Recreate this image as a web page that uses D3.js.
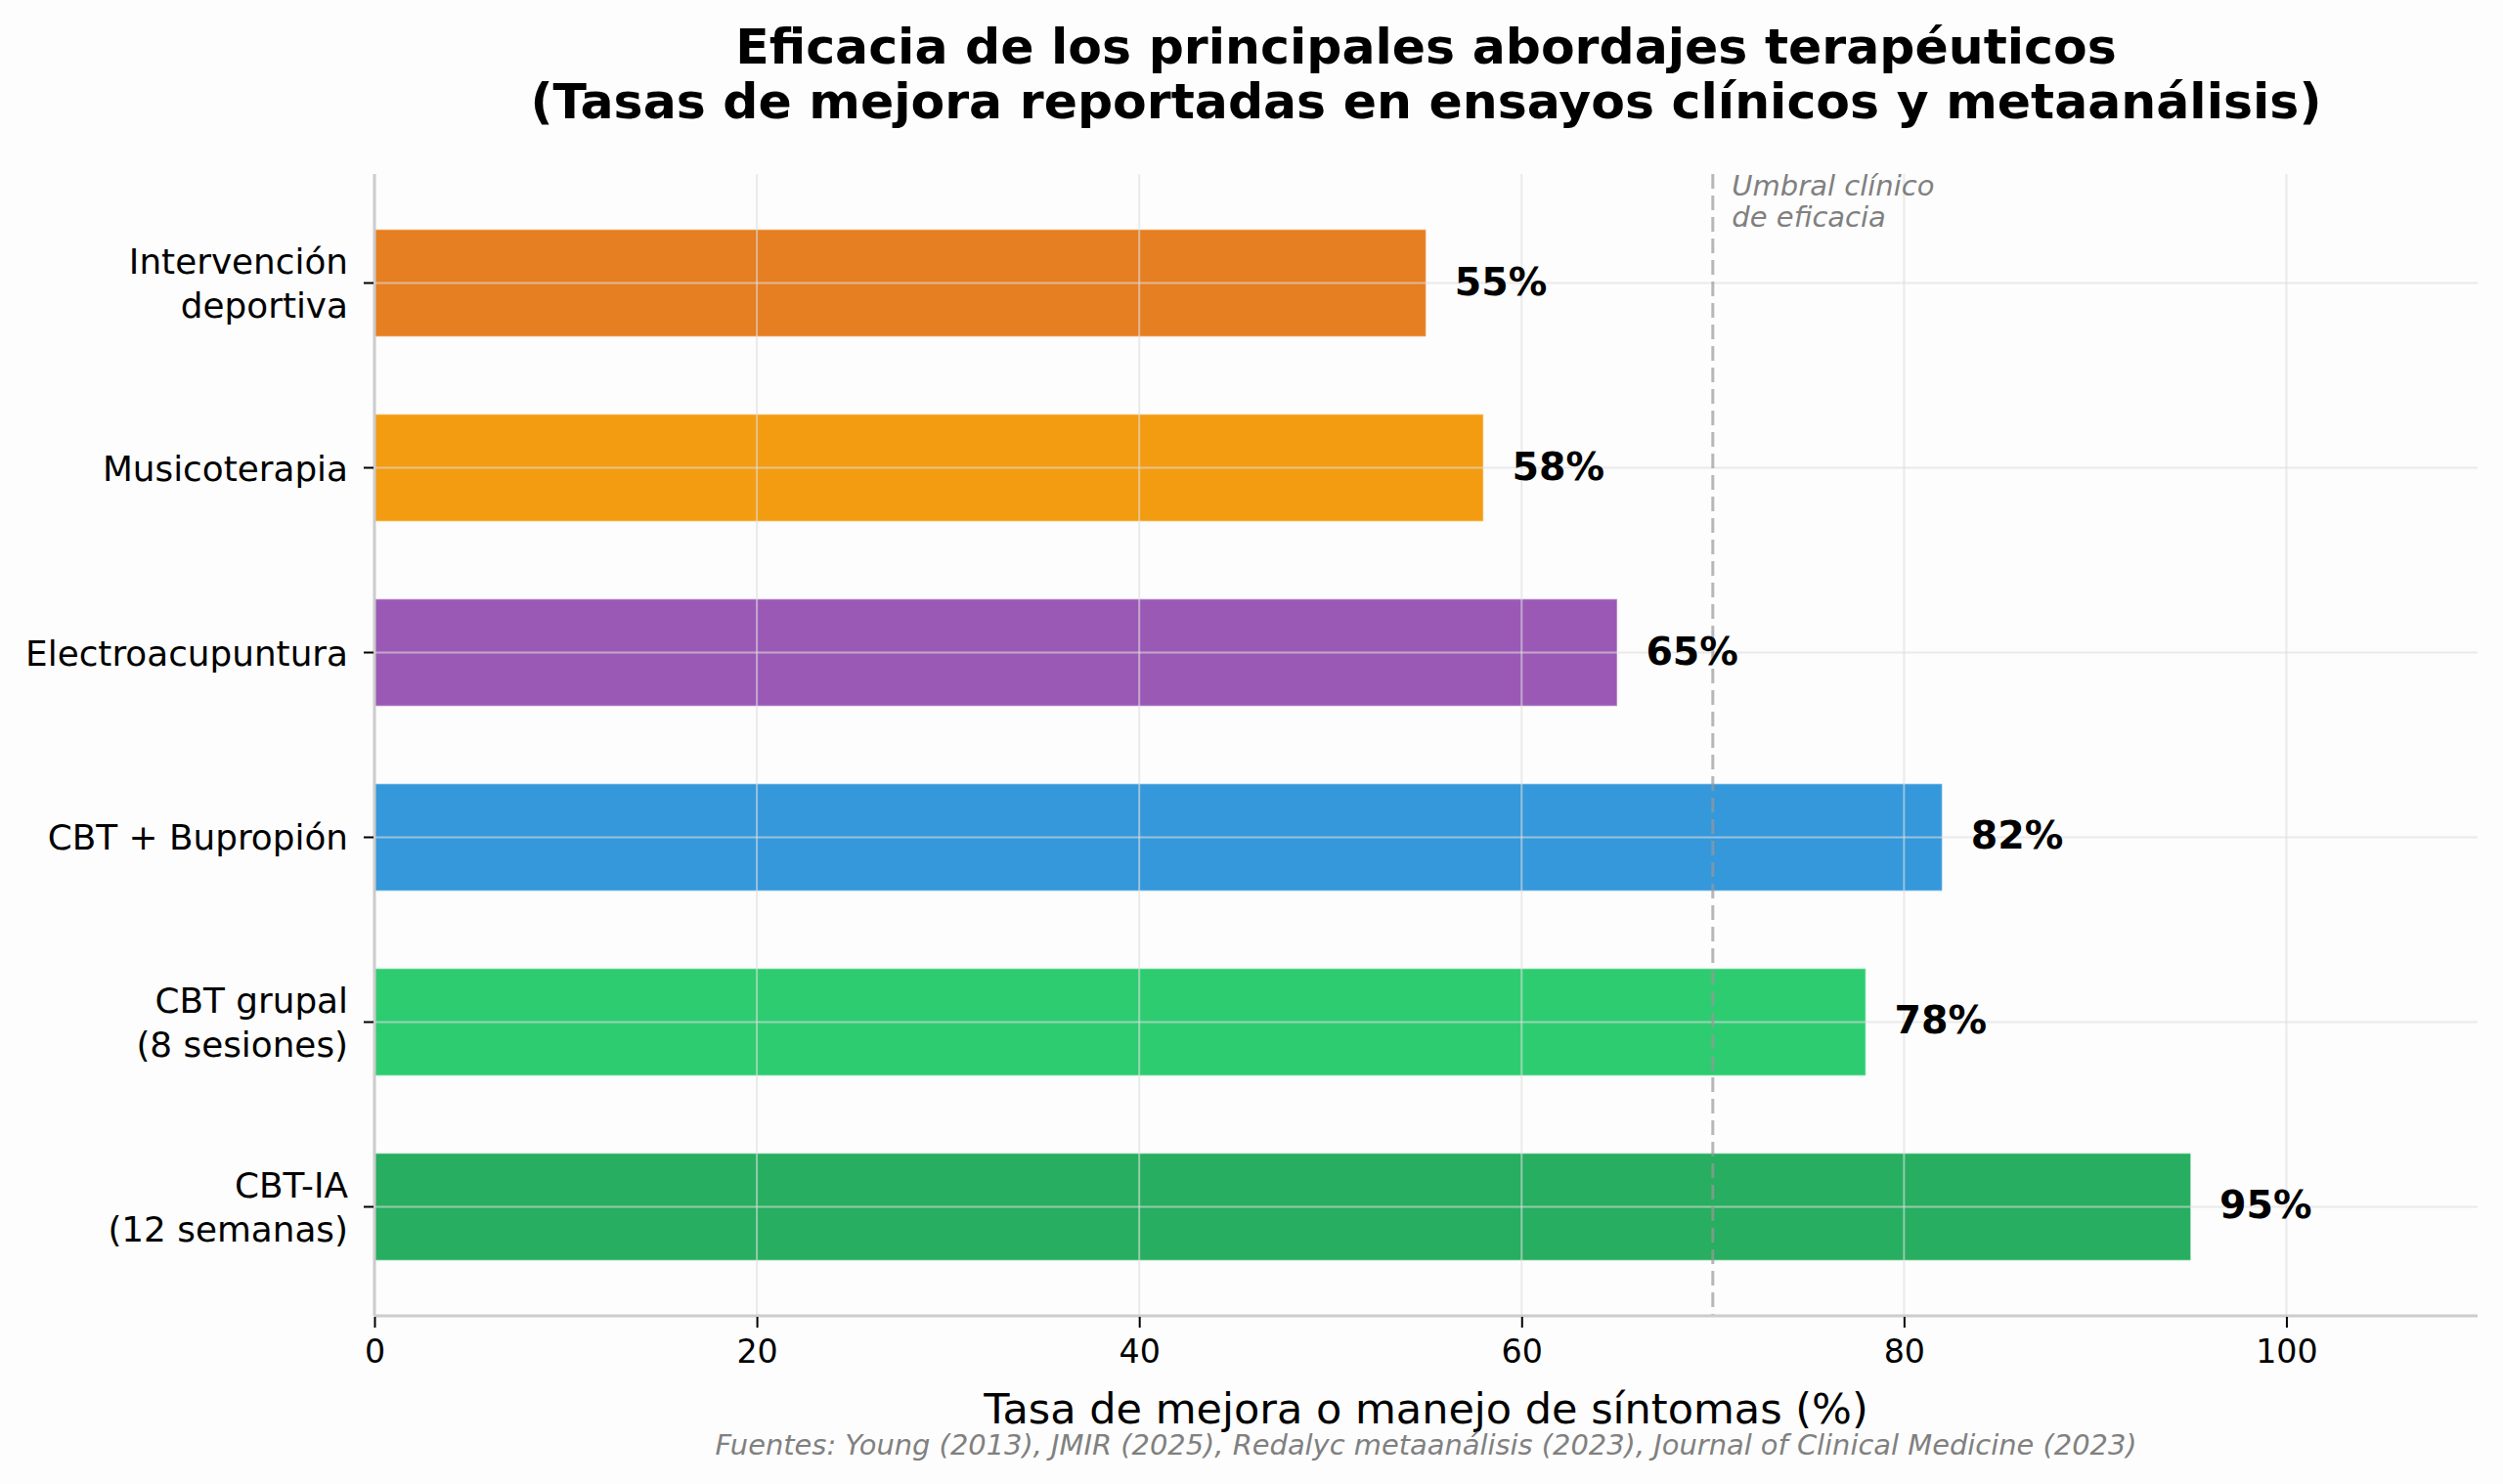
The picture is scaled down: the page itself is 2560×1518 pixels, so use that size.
<!DOCTYPE html>
<html>
<head>
<meta charset="utf-8">
<script src="https://cdn.jsdelivr.net/npm/d3@7"></script>
<style>
  body { margin: 0; background: #fdfdfd; }
  text { font-family: "DejaVu Sans", sans-serif; }
</style>
</head>
<body>
<script>
// data, listed bottom to top like the picture
const therapies = [
  ["CBT-IA", "(12 semanas)"],
  ["CBT grupal", "(8 sesiones)"],
  ["CBT + Bupropión"],
  ["Electroacupuntura"],
  ["Musicoterapia"],
  ["Intervención", "deportiva"]
];
const rates = [95, 78, 82, 65, 58, 55];
const barColors = ["#27ae60", "#2ecc71", "#3498db", "#9b59b6", "#f39c12", "#e67e22"];
const xTicks = [0, 20, 40, 60, 80, 100];
const threshold = 70;

const W = 2560, H = 1518;
const plotL = 383, plotR = 2534, plotT = 178, plotB = 1346;

const svg = d3.select("body").append("svg")
  .attr("width", W)
  .attr("height", H);

svg.append("rect").attr("width", W).attr("height", H).attr("fill", "#fdfdfd");

const x = d3.scaleLinear().domain([0, 110]).range([plotL, plotR]);
const y = d3.scaleLinear().domain([-0.59, 5.59]).range([plotB, plotT]);
const barH = y(0) - y(0.58);

// bars
svg.selectAll("rect.bar")
  .data(rates)
  .join("rect")
  .attr("class", "bar")
  .attr("x", x(0))
  .attr("y", (d, i) => y(i) - barH / 2)
  .attr("width", d => x(d) - x(0))
  .attr("height", barH)
  .attr("fill", (d, i) => barColors[i])
  .attr("stroke", "#ffffff")
  .attr("stroke-opacity", 0.4)
  .attr("stroke-width", 1.5);

// grid on top of the bars
const grid = svg.append("g").attr("stroke", "#dddddd").attr("stroke-opacity", 0.6).attr("stroke-width", 2);
grid.selectAll("line.vx")
  .data(xTicks.slice(1))
  .join("line")
  .attr("x1", d => x(d)).attr("x2", d => x(d))
  .attr("y1", plotT).attr("y2", plotB);
grid.selectAll("line.hy")
  .data(rates)
  .join("line")
  .attr("x1", plotL).attr("x2", plotR)
  .attr("y1", (d, i) => y(i)).attr("y2", (d, i) => y(i));

// threshold
svg.append("line")
  .attr("x1", x(threshold)).attr("x2", x(threshold))
  .attr("y1", plotT).attr("y2", plotB)
  .attr("stroke", "#999999")
  .attr("stroke-opacity", 0.7)
  .attr("stroke-width", 3)
  .attr("stroke-dasharray", "15,7");

const note = svg.append("text")
  .attr("x", x(threshold + 1))
  .attr("y", 200)
  .attr("fill", "#808080")
  .attr("font-size", 29)
  .attr("font-style", "italic");
note.append("tspan").text("Umbral clínico");
note.append("tspan").attr("x", x(threshold + 1)).attr("dy", 32).text("de eficacia");

// spines
svg.append("line").attr("x1", plotL).attr("x2", plotL).attr("y1", plotT).attr("y2", plotB)
  .attr("stroke", "#cccccc").attr("stroke-width", 3);
svg.append("line").attr("x1", plotL).attr("x2", plotR).attr("y1", plotB).attr("y2", plotB)
  .attr("stroke", "#cccccc").attr("stroke-width", 3);

// x axis
const xAxis = svg.append("g")
  .attr("transform", `translate(0,${plotB + 1})`)
  .call(d3.axisBottom(x).tickValues(xTicks).tickSize(11).tickPadding(12));
xAxis.select(".domain").remove();
xAxis.selectAll(".tick line").attr("stroke", "#000").attr("stroke-width", 2);
xAxis.selectAll(".tick text")
  .attr("font-size", 33.3)
  .attr("font-family", "DejaVu Sans")
  .attr("fill", "#000");

// y tick marks and labels
svg.selectAll("line.ytick")
  .data(therapies)
  .join("line")
  .attr("x1", plotL - 11).attr("x2", plotL - 1)
  .attr("y1", (d, i) => y(i)).attr("y2", (d, i) => y(i))
  .attr("stroke", "#000").attr("stroke-width", 2);

const lineGap = 45;
svg.selectAll("text.ylab")
  .data(therapies)
  .join("text")
  .attr("class", "ylab")
  .attr("x", 356)
  .attr("text-anchor", "end")
  .attr("font-size", 35.8)
  .attr("fill", "#000")
  .each(function (d, i) {
    const t = d3.select(this);
    const first = y(i) + 13 - (d.length - 1) * lineGap / 2;
    d.forEach((s, k) => {
      t.append("tspan").attr("x", 356).attr("y", first + k * lineGap).text(s);
    });
  });

// value labels
svg.selectAll("text.val")
  .data(rates)
  .join("text")
  .attr("class", "val")
  .attr("x", d => x(d + 1.5))
  .attr("y", (d, i) => y(i) + 12)
  .attr("font-size", 39.5)
  .attr("font-weight", "bold")
  .attr("fill", "#000")
  .text(d => d + "%");

// titles
const cx = (plotL + plotR) / 2;
svg.append("text")
  .attr("x", cx).attr("y", 65)
  .attr("text-anchor", "middle")
  .attr("font-size", 50.5)
  .attr("font-weight", "bold")
  .text("Eficacia de los principales abordajes terapéuticos");
svg.append("text")
  .attr("x", cx).attr("y", 121)
  .attr("text-anchor", "middle")
  .attr("font-size", 50.5)
  .attr("font-weight", "bold")
  .text("(Tasas de mejora reportadas en ensayos clínicos y metaanálisis)");

svg.append("text")
  .attr("x", cx).attr("y", 1456)
  .attr("text-anchor", "middle")
  .attr("font-size", 43)
  .attr("fill", "#000")
  .text("Tasa de mejora o manejo de síntomas (%)");

svg.append("text")
  .attr("x", cx).attr("y", 1488)
  .attr("text-anchor", "middle")
  .attr("font-size", 28.9)
  .attr("font-style", "italic")
  .attr("fill", "#808080")
  .text("Fuentes: Young (2013), JMIR (2025), Redalyc metaanálisis (2023), Journal of Clinical Medicine (2023)");
</script>
</body>
</html>
